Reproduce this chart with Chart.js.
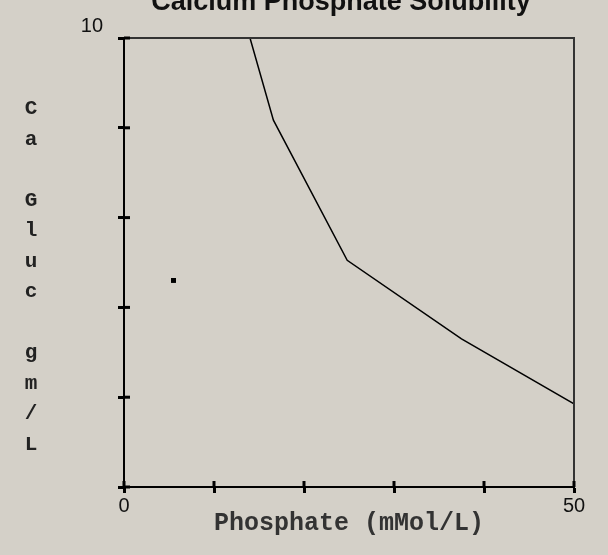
<!DOCTYPE html>
<html>
<head>
<meta charset="utf-8">
<script src="https://cdn.jsdelivr.net/npm/chart.js@4/dist/chart.umd.min.js"></script>
<style>
    html, body { margin: 0; padding: 0; background: #d4d0c8; }
    #wrap { width: 608px; height: 555px; }
</style>
</head>
<body>
<div id="wrap"><canvas id="chart" width="608" height="555"></canvas></div>
<script>
// Chart data
const chartTitle = 'Calcium Phosphate Solubility';
const xTitle = 'Phosphate (mMol/L)';
const yTitleLetters = ['C', 'a', '', 'G', 'l', 'u', 'c', '', 'g', 'm', '/', 'L'];

const curveX = [14, 16.6, 24.8, 37.5, 50];
const curveY = [10, 8.17, 5.05, 3.3, 1.85];

const pointX = [5.5];
const pointY = [4.6];

const xLabelsShown = [0, 50];
const yLabelsShown = [10];

// Title and stacked y label, plus frame and inner tick halves
const decorPlugin = {
    id: 'decor',
    beforeDraw(chart) {
        const ctx = chart.ctx;
        ctx.save();
        ctx.fillStyle = '#d4d0c8';
        ctx.fillRect(0, 0, chart.width, chart.height);
        ctx.restore();
    },
    afterDraw(chart) {
        const ctx = chart.ctx;
        const area = chart.chartArea;
        ctx.save();

        // title (cut at the top like the original)
        ctx.fillStyle = '#111';
        ctx.font = 'bold 27px "Liberation Sans", Arial, sans-serif';
        ctx.textAlign = 'center';
        ctx.textBaseline = 'alphabetic';
        ctx.fillText(chartTitle, 341, 10);

        // stacked y label
        ctx.font = 'bold 21px "Liberation Mono", "Courier New", monospace';
        ctx.fillStyle = '#222';
        ctx.textBaseline = 'middle';
        yTitleLetters.forEach((ch, i) => {
            if (ch) ctx.fillText(ch, 31, 109 + i * 30.5);
        });

        // top and right frame
        ctx.strokeStyle = '#333';
        ctx.lineWidth = 2;
        ctx.beginPath();
        ctx.moveTo(area.left, area.top);
        ctx.lineTo(area.right, area.top);
        ctx.lineTo(area.right, area.bottom);
        ctx.stroke();

        // inner halves of tick marks
        ctx.fillStyle = '#000';
        const xs = chart.scales.x;
        xs.ticks.forEach((t, i) => {
            const px = xs.getPixelForTick(i);
            ctx.fillRect(px - 1.5, area.bottom - 6, 3, 6);
        });
        const ys = chart.scales.y;
        ys.ticks.forEach((t, i) => {
            const py = ys.getPixelForTick(i);
            ctx.fillRect(area.left, py - 1.5, 6, 3);
        });
        ctx.restore();
    }
};

const ctx = document.getElementById('chart');

new Chart(ctx, {
    type: 'scatter',
    data: {
        datasets: [
            {
                label: 'curve',
                data: curveX.map((x, i) => ({ x: x, y: curveY[i] })),
                showLine: true,
                borderColor: '#000',
                borderWidth: 1.5,
                pointRadius: 0,
                tension: 0
            },
            {
                label: 'point',
                data: pointX.map((x, i) => ({ x: x, y: pointY[i] })),
                pointStyle: 'rect',
                pointRadius: 3.5,
                backgroundColor: '#000',
                borderColor: '#000',
                borderWidth: 0
            }
        ]
    },
    options: {
        responsive: false,
        animation: false,
        layout: {
            padding: { left: 0, right: 34, top: 38, bottom: 0 }
        },
        scales: {
            x: {
                type: 'linear',
                min: 0,
                max: 50,
                afterFit(scale) { scale.height = 68; },
                ticks: {
                    stepSize: 10,
                    color: '#111',
                    padding: 1,
                    maxRotation: 0,
                    font: { family: '"Liberation Sans", Arial, sans-serif', size: 20 },
                    callback: (v) => xLabelsShown.includes(v) ? String(v) : ''
                },
                grid: {
                    drawOnChartArea: false,
                    drawTicks: true,
                    tickLength: 6,
                    tickWidth: 3,
                    tickColor: '#000'
                },
                border: { display: true, color: '#000', width: 2 },
                title: {
                    display: true,
                    text: xTitle,
                    color: '#333',
                    font: { family: '"Liberation Mono", "Courier New", monospace', size: 25, weight: 'bold' },
                    padding: { top: 0, bottom: 16 }
                }
            },
            y: {
                type: 'linear',
                min: 0,
                max: 10,
                afterFit(scale) { scale.width = 124; },
                ticks: {
                    stepSize: 2,
                    color: '#111',
                    padding: 15,
                    labelOffset: -12,
                    font: { family: '"Liberation Sans", Arial, sans-serif', size: 20 },
                    callback: (v) => yLabelsShown.includes(v) ? String(v) : ''
                },
                grid: {
                    drawOnChartArea: false,
                    drawTicks: true,
                    tickLength: 6,
                    tickWidth: 3,
                    tickColor: '#000'
                },
                border: { display: true, color: '#000', width: 2 }
            }
        },
        plugins: {
            legend: { display: false },
            tooltip: { enabled: false },
            title: { display: false }
        }
    },
    plugins: [decorPlugin]
});
</script>
</body>
</html>
